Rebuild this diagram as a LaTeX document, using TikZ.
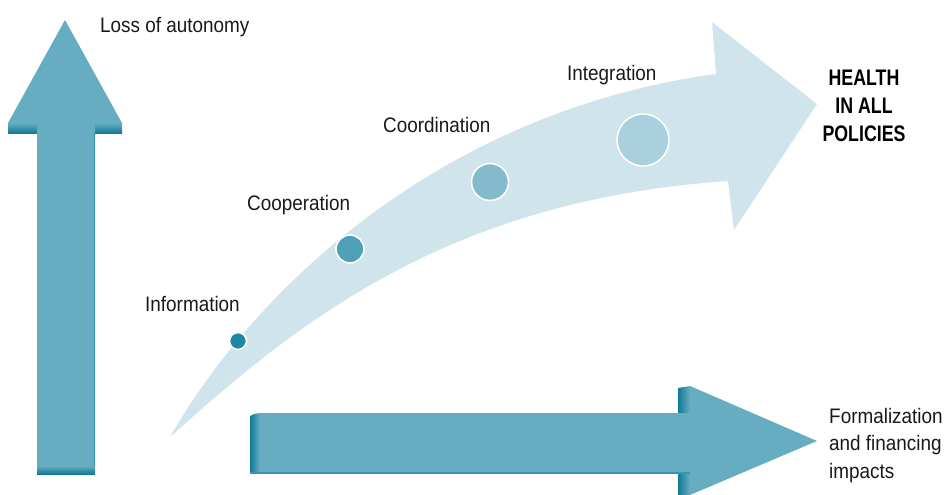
\documentclass[tikz,border=0pt]{standalone}
\usepackage{fontspec}
\setmainfont{Liberation Sans}[FakeStretch=0.9]
\newfontfamily\boldcond{Liberation Sans}[FakeStretch=0.79]
\definecolor{arrowmain}{HTML}{67ADC2}
\definecolor{arrowdark}{HTML}{117A95}
\definecolor{curvefill}{HTML}{CFE5EB}
\definecolor{cA}{HTML}{1F87A3}
\definecolor{cB}{HTML}{4FA1B8}
\definecolor{cC}{HTML}{83BACC}
\definecolor{cD}{HTML}{A9D0DC}
\tikzset{
  lbl/.style={anchor=base west, inner sep=0pt, font=\fontsize{21}{27.5}\selectfont, text=black!90},
  dot/.style={draw=white, line width=1.6pt},
  vband/.style={top color=arrowmain, bottom color=arrowdark, draw=none},
  hband/.style={left color=arrowdark, right color=arrowmain, draw=none},
}
\begin{document}
\begin{tikzpicture}[x=1pt,y=-1pt]
\useasboundingbox (0,0) rectangle (946,495);
% curved arrow
\fill[curvefill] (170,437) .. controls (260,280) and (450,110) .. (716,74)
  -- (712,22) -- (817,104) -- (734,230) -- (728,181)
  .. controls (450,200) and (300,320) .. (170,437) -- cycle;
% vertical arrow
\shade[vband] (8,123) rectangle (37,133);
\shade[vband] (95,123) rectangle (122,133);
\fill[arrowmain] (37,466) -- (37,123) -- (8,123) -- (65,20) -- (122,123) -- (95,123) -- (95,466) -- cycle;
\shade[vband] (37,466) rectangle (95,474);
\fill[arrowdark!60!arrowmain] (94,133) rectangle (95,466);
% horizontal arrow
\shade[hband] (250,416) -- (254,414) -- (260,413) -- (260,473) -- (250,473) -- cycle;
\shade[hband] (678,388) -- (690,386) -- (690,413) -- (678,413) -- cycle;
\shade[hband] (678,473) -- (690,473) -- (690,495) -- (678,495) -- cycle;
\fill[arrowmain] (260,413) -- (690,413) -- (690,386) -- (817,441) -- (690,495) -- (690,473) -- (260,473) -- cycle;
\fill[arrowdark!50!arrowmain] (250,472) rectangle (690,474);
% circles
\filldraw[dot, fill=cA] (238,341) circle (8.5);
\filldraw[dot, fill=cB] (350,249) circle (14);
\filldraw[dot, fill=cC] (490,182) circle (18.5);
\filldraw[dot, fill=cD] (643,140) circle (26);
% labels
\node[lbl] (autonomy) at (100,33) {Loss of autonomy};
\node[lbl] (info) at (145,311) {Information};
\node[lbl] (coop) at (247,210) {Cooperation};
\node[lbl] (coord) at (383,132) {Coordination};
\node[lbl] (integ) at (567,81) {Integration};
\node[anchor=base, inner sep=0pt, align=center, font=\boldcond\bfseries\fontsize{22.5}{28.5}\selectfont] (hiap) at (864,142) {HEALTH\\IN ALL\\POLICIES};
\node[lbl, align=left] (formal) at (829,478) {Formalization\\and financing\\impacts};
\end{tikzpicture}
\end{document}
